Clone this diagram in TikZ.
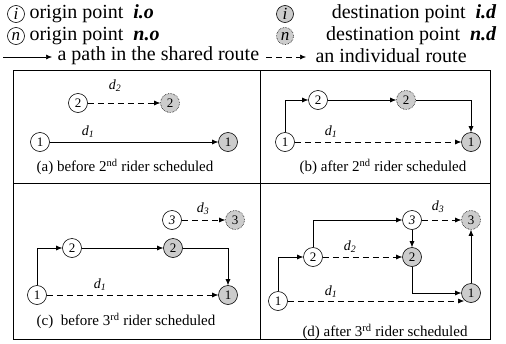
\documentclass[tikz,border=0pt]{standalone}
\usepackage{fontspec}
\setmainfont{Liberation Serif}
\usetikzlibrary{arrows.meta}

\tikzset{
  orig/.style={circle, draw, fill=white, minimum size=19pt, inner sep=0pt,
    line width=0.6pt, font=\fontsize{13}{13}\selectfont},
  dest/.style={orig, fill=gray!40},
  destnew/.style={dest, densely dotted},
  legnode/.style={minimum size=17pt, font=\fontsize{17}{17}\selectfont\itshape},
  route/.style={-{Latex[length=6pt,width=5pt]}, line width=0.6pt},
  indiv/.style={route, dash pattern=on 6pt off 4pt},
  dlbl/.style={font=\fontsize{14}{14}\selectfont},
  legtxt/.style={font=\fontsize{20}{20}\selectfont},
  capt/.style={font=\fontsize{15}{15}\selectfont},
}
\newcommand{\dsub}[1]{\textit{d}\textsubscript{\textit{#1}}}

\begin{document}
\begin{tikzpicture}[x=1pt, y=-1pt]
\useasboundingbox (0,0) rectangle (506,343);

%---------------------------------------
% Legend
%---------------------------------------
\node[orig, legnode] (li) at (16,14) {i};
\node[legtxt, anchor=west] (lio) at (26,14) {origin point\ \ \textbf{\textit{i.o}}};
\node[orig, legnode] (ln) at (16,36) {n};
\node[legtxt, anchor=west] (lno) at (26,36) {origin point\ \ \textbf{\textit{n.o}}};

\node[dest, legnode] (lid) at (285,14) {i};
\node[legtxt, anchor=east] (lidt) at (500,14) {destination point\ \ \textbf{\textit{i.d}}};
\node[destnew, legnode] (lnd) at (285,36) {n};
\node[legtxt, anchor=east] (lndt) at (500,36) {destination point\ \ \textbf{\textit{n.d}}};

\coordinate (ls0) at (3,57);
\coordinate (ls1) at (52,57);
\draw[route] (ls0) -- (ls1);
\node[legtxt, anchor=west] (lst) at (54,56) {a path in the shared route};
\coordinate (lr0) at (266,57);
\coordinate (lr1) at (306,57);
\draw[indiv] (lr0) -- (lr1);
\node[legtxt, anchor=west] (lrt) at (312,56) {an individual route};

% Panel frame
\draw[line width=0.8pt] (13,70) rectangle (490,339);
\draw[line width=0.8pt] (260,70) -- (260,339);
\draw[line width=0.8pt] (13,183) -- (490,183);

%====================================================
% (a) before 2nd rider
%====================================================
\node[orig] (ao2) at (78,103) {2};
\node[destnew] (ad2) at (170,103) {2};
\node[orig] (ao1) at (40,142) {1};
\node[dest] (ad1) at (228,142) {1};
\draw[indiv] (ao2) -- (ad2);
\draw[route] (ao1) -- (ad1);
\node[dlbl] (ad2l) at (115,86) {\dsub{2}};
\node[dlbl] (ad1l) at (88,132) {\dsub{1}};
\node[capt] (acap) at (125,167) {(a) before 2\textsuperscript{nd} rider scheduled};

%====================================================
% (b) after 2nd rider
%====================================================
\node[orig] (bo1) at (285,142) {1};
\node[dest] (bd1) at (471,142) {1};
\node[orig] (bo2) at (318,100) {2};
\node[destnew] (bd2) at (406,100) {2};
\draw[route] (bo1) |- (bo2);
\draw[route] (bo2) -- (bd2);
\draw[route] (bd2) -| (bd1);
\draw[indiv] (bo1) -- (bd1);
\node[dlbl] (bd1l) at (331,132) {\dsub{1}};
\node[capt] (bcap) at (383,167) {(b) after 2\textsuperscript{nd} rider scheduled};

%====================================================
% (c) before 3rd rider
%====================================================
\node[orig, font=\fontsize{13}{13}\selectfont\itshape] (co3) at (172,220) {3};
\node[destnew] (cd3) at (235,220) {3};
\node[orig] (co2) at (72,248) {2};
\node[dest] (cd2) at (173,248) {2};
\node[orig] (co1) at (37,295) {1};
\node[dest] (cd1) at (228,295) {1};
\draw[indiv] (co3) -- (cd3);
\draw[route] (co1) |- (co2);
\draw[route] (co2) -- (cd2);
\draw[route] (cd2) -| (cd1);
\draw[indiv] (co1) -- (cd1);
\node[dlbl] (cd3l) at (203,209) {\dsub{3}};
\node[dlbl] (cd1l) at (100,285) {\dsub{1}};
\node[capt] (ccap) at (126,321) {(c)\ \ before 3\textsuperscript{rd} rider scheduled};

%====================================================
% (d) after 3rd rider
%====================================================
\node[orig] (do1) at (278,301) {1};
\node[orig] (do2) at (313,257) {2};
\node[orig, font=\fontsize{13}{13}\selectfont\itshape] (do3) at (412,220) {3};
\node[destnew] (dd3) at (471,220) {3};
\node[dest] (dd2) at (412,257) {2};
\node[dest] (dd1) at (471,293) {1};
\draw[route] (do1) |- (do2);
\draw[route] (do2) |- (do3);
\draw[route] (do3) -- (dd2);
\draw[route] (dd2) |- (dd1);
\draw[route] (dd1) -- (dd3);
\draw[indiv] (do3) -- (dd3);
\draw[indiv] (do2) -- (dd2);
\draw[indiv] (do1) -- (do1 -| dd1.south west);
\node[dlbl] (dd3l) at (438,207) {\dsub{3}};
\node[dlbl] (dd2l) at (350,247) {\dsub{2}};
\node[dlbl] (dd1l) at (331,292) {\dsub{1}};
\node[capt] (dcap) at (385,332) {(d) after 3\textsuperscript{rd} rider scheduled};

\end{tikzpicture}
\end{document}
